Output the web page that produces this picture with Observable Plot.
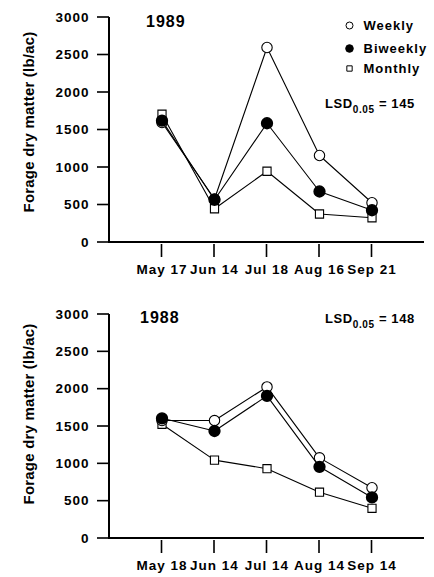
<!DOCTYPE html>
<html>
<head>
<meta charset="utf-8">
<script src="https://cdn.jsdelivr.net/npm/d3@7"></script>
<script src="https://cdn.jsdelivr.net/npm/@observablehq/plot@0.6"></script>
</head>
<body style="margin:0;background:#fff">
<div id="wrap" style="width:434px"></div>
<script>
const series = ["Monthly", "Weekly", "Biweekly"];

const dates1989 = ["May 17", "Jun 14", "Jul 18", "Aug 16", "Sep 21"];
const weekly1989 = [1600, 580, 2600, 1160, 530];
const biweekly1989 = [1625, 570, 1590, 680, 430];
const monthly1989 = [1710, 450, 950, 380, 330];
const lsd1989 = "145";

const dates1988 = ["May 18", "Jun 14", "Jul 14", "Aug 14", "Sep 14"];
const weekly1988 = [1580, 1580, 2030, 1080, 680];
const biweekly1988 = [1610, 1440, 1910, 960, 550];
const monthly1988 = [1530, 1050, 935, 620, 405];
const lsd1988 = "148";

const yTicks = [0, 500, 1000, 1500, 2000, 2500, 3000];
const xTicks = [0, 1, 2, 3, 4];
const FONT = "'Liberation Sans', Arial, Helvetica, sans-serif";

function rows(w, b, m) {
  const out = [];
  const src = {Weekly: w, Biweekly: b, Monthly: m};
  for (const s of series) src[s].forEach((v, i) => out.push({s, i, v}));
  return out;
}

function panel({dates, data, height, marginTop, marginBottom, year, lsd, legend, yearY, lsdY, yearX, labelCy}) {
  const marks = [
    Plot.line(data, {x: "i", y: "v", z: "s", stroke: "black", strokeWidth: 1.1}),
    Plot.dot(data.filter(d => d.s === "Monthly"), {x: "i", y: "v", symbol: "square", r: 4.6, fill: "white", stroke: "black", strokeWidth: 1.1}),
    Plot.dot(data.filter(d => d.s === "Weekly"), {x: "i", y: "v", r: 5.2, fill: "white", stroke: "black", strokeWidth: 1.1}),
    Plot.dot(data.filter(d => d.s === "Biweekly"), {x: "i", y: "v", r: 5.4, fill: "black", stroke: "black"})
  ];
  if (legend) {
    const items = [
      {s: "Weekly", dy: 8, fill: "white", symbol: "circle", r: 3.5},
      {s: "Biweekly", dy: 31, fill: "black", symbol: "circle", r: 3.8},
      {s: "Monthly", dy: 51, fill: "white", symbol: "square", r: 3.0}
    ];
    for (const it of items) {
      marks.push(Plot.dot([it.s], {frameAnchor: "top-right", dx: -75, dy: it.dy, symbol: it.symbol, r: it.r, fill: it.fill, stroke: "black", strokeWidth: 1}));
      marks.push(Plot.text([it.s], {text: d => d, frameAnchor: "top-right", dx: -61, dy: it.dy, textAnchor: "start", lineAnchor: "middle", fontSize: 13, fontWeight: "bold", fill: "black"}));
    }
  }
  const svg = Plot.plot({
    width: 434,
    height,
    marginTop,
    marginBottom,
    marginLeft: 109,
    marginRight: 10,
    style: {fontFamily: FONT, fontSize: "13.5px", fontWeight: "bold", letterSpacing: "1px", color: "black", background: "white"},
    x: {type: "linear", domain: [-1, 5], ticks: xTicks, tickFormat: i => dates[i], tickSize: 0, tickPadding: 22, label: null},
    y: {domain: [0, 3000], ticks: yTicks, tickFormat: d => String(d), tickSize: 0, tickPadding: 20, label: null},
    marks
  });
  const sx = svg.scale("x"), sy = svg.scale("y");
  const X = d3.scaleLinear().domain(sx.domain).range(sx.range);
  const Y = d3.scaleLinear().domain(sy.domain).range(sy.range);
  const s = d3.select(svg);
  const g = s.insert("g", ":first-child").attr("fill", "black").attr("stroke", "none");
  const x0 = X(-1), y0 = Y(0), yTop = Y(3000);
  g.append("rect").attr("x", x0 - 1).attr("y", yTop).attr("width", 2).attr("height", y0 - yTop + 1);
  g.append("rect").attr("x", x0 - 1).attr("y", y0 - 1).attr("width", X(5) - x0 + 1).attr("height", 2);
  for (const v of yTicks) {
    g.append("rect").attr("x", x0 - 12).attr("y", Y(v) - 0.8).attr("width", 12).attr("height", 1.6);
  }
  for (const i of xTicks) {
    g.append("rect").attr("x", X(i) - 0.8).attr("y", y0 + 2).attr("width", 1.6).attr("height", 13);
  }
  s.append("text")
    .attr("x", yearX).attr("y", yearY).attr("text-anchor", "start")
    .attr("font-family", FONT).attr("font-size", 16).attr("font-weight", "bold").attr("letter-spacing", "1px")
    .text(year);
  const t = s.append("text")
    .attr("x", 325).attr("y", lsdY).attr("text-anchor", "start")
    .attr("font-family", FONT).attr("font-size", 13).attr("font-weight", "bold").attr("letter-spacing", "0.6px");
  t.append("tspan").text("LSD");
  t.append("tspan").attr("font-size", 10).attr("dy", 5).text("0.05");
  t.append("tspan").attr("dy", -5).text(" = " + lsd);
  s.append("text")
    .attr("transform", `translate(34,${labelCy}) rotate(-90)`)
    .attr("text-anchor", "middle")
    .attr("font-family", FONT).attr("font-size", 15).attr("font-weight", "bold").attr("letter-spacing", "0.2px")
    .text("Forage dry matter (lb/ac)");
  svg.style.display = "block";
  return svg;
}

const wrap = document.getElementById("wrap");
wrap.appendChild(panel({
  dates: dates1989,
  data: rows(weekly1989, biweekly1989, monthly1989),
  height: 290, marginTop: 17, marginBottom: 48,
  year: "1989", lsd: lsd1989, legend: true, yearX: 146, yearY: 27, lsdY: 108, labelCy: 122
}));
wrap.appendChild(panel({
  dates: dates1988,
  data: rows(weekly1988, biweekly1988, monthly1988),
  height: 287, marginTop: 24, marginBottom: 39,
  year: "1988", lsd: lsd1988, legend: false, yearX: 140, yearY: 33, lsdY: 33, labelCy: 124
}));
</script>
</body>
</html>
